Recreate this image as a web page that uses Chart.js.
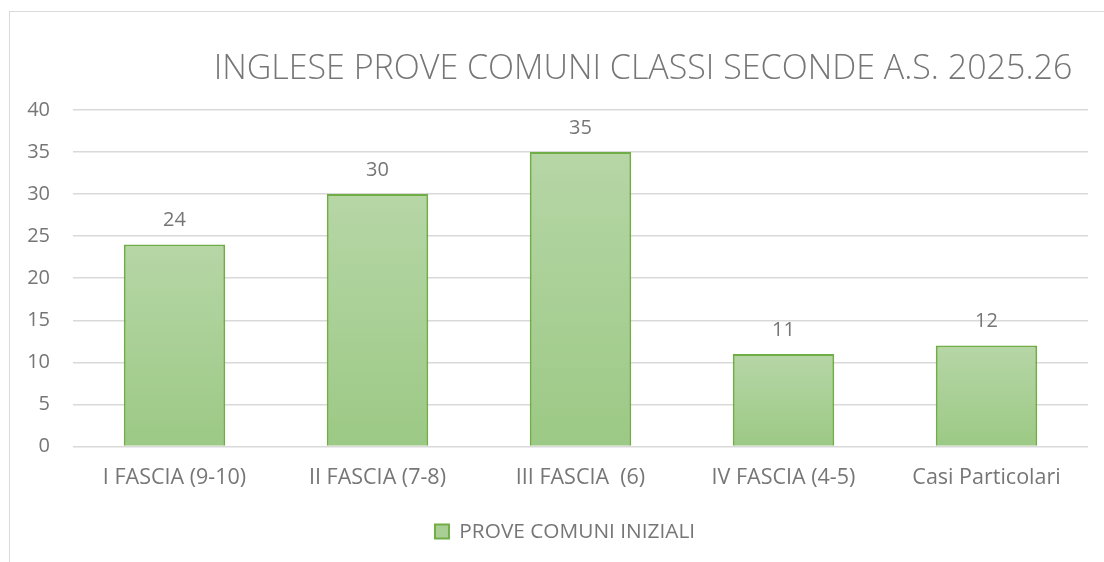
<!DOCTYPE html>
<html><head><meta charset="utf-8">
<script src="https://cdn.jsdelivr.net/npm/chart.js@4/dist/chart.umd.min.js"></script>
<style>
html,body{margin:0;padding:0;background:#fff;overflow:hidden;}
#wrap{position:absolute;left:9px;top:11px;width:1110px;height:570px;border:1px solid #d9d9d9;}
#c{position:absolute;left:0;top:0;}
</style></head>
<body>
<div id="wrap"><canvas id="c" width="1094" height="550"></canvas></div>
<script>
const categories = ["I FASCIA (9-10)", "II FASCIA (7-8)", "III FASCIA  (6)", "IV FASCIA (4-5)", "Casi Particolari"];
const values = [24, 30, 35, 11, 12];
const seriesName = "PROVE COMUNI INIZIALI";
const titleText = "INGLESE PROVE COMUNI CLASSI SECONDE A.S. 2025.26";
const yTicks = [0, 5, 10, 15, 20, 25, 30, 35, 40];

const FONT = "'Open Sans', sans-serif";
const GRAY = '#767676';

function barGradient(ctx) {
  const chart = ctx.chart;
  const ys = chart.scales && chart.scales.y;
  if (!chart.chartArea || !ys || ctx.dataIndex === undefined) return '#a9cf95';
  const v = values[ctx.dataIndex];
  const top = ys.getPixelForValue(v);
  const bot = ys.getPixelForValue(0);
  const g = chart.ctx.createLinearGradient(0, top, 0, bot);
  g.addColorStop(0, '#b6d6a6');
  g.addColorStop(1, '#9cc985');
  return g;
}

const titlePlugin = {
  id: 'customTitle',
  afterDraw(chart) {
    const c = chart.ctx;
    c.save();
    c.font = "300 34px " + FONT;
    c.fillStyle = GRAY;
    c.textAlign = 'center';
    c.textBaseline = 'middle';
    c.fillText(titleText, 633, 57);
    c.restore();
  }
};

const legendShift = {
  id: 'legendShift',
  afterLayout(chart) {
    if (chart.legend) { chart.legend.left += 16; chart.legend.right += 16; }
  }
};

const labelPlugin = {
  id: 'valueLabels',
  afterDatasetsDraw(chart) {
    const c = chart.ctx;
    const meta = chart.getDatasetMeta(0);
    c.save();
    c.font = "20px " + FONT;
    c.fillStyle = GRAY;
    c.textAlign = 'center';
    c.textBaseline = 'middle';
    meta.data.forEach((bar, i) => {
      c.fillText(String(values[i]), bar.x, bar.y - 24);
    });
    c.restore();
  }
};

new Chart(document.getElementById('c'), {
  type: 'bar',
  data: {
    labels: categories,
    datasets: [{
      label: seriesName,
      data: values,
      backgroundColor: barGradient,
      borderColor: '#70ad47',
      borderWidth: 2,
      borderSkipped: 'bottom',
      categoryPercentage: 1.0,
      barPercentage: 0.5
    }]
  },
  options: {
    responsive: false,
    animation: false,
    devicePixelRatio: 1,
    layout: { padding: { left: 0, right: 16, top: 98, bottom: 10 } },
    plugins: {
      title: { display: false },
      tooltip: { enabled: false },
      legend: {
        position: 'bottom',
        labels: {
          color: GRAY,
          font: { family: FONT, size: 20.8 },
          boxWidth: 14,
          boxHeight: 14,
          padding: 14,
          generateLabels(chart) {
            return [{
              text: seriesName,
              fillStyle: '#a9cf95',
              strokeStyle: '#70ad47',
              lineWidth: 2,
              fontColor: GRAY,
              datasetIndex: 0
            }];
          }
        }
      }
    },
    scales: {
      x: {
        grid: { display: false, drawTicks: false },
        border: { display: false },
        afterFit(scale) { scale.height -= 3; },
        ticks: { color: GRAY, font: { family: FONT, size: 21.5 }, padding: 19, maxRotation: 0 }
      },
      y: {
        min: 0, max: 40,
        afterFit(scale) { scale.width = 63; },
        afterBuildTicks(scale) { scale.ticks = yTicks.map(v => ({ value: v })); },
        grid: { color: '#d9d9d9', lineWidth: 1.5, drawTicks: false },
        border: { display: false },
        ticks: { color: GRAY, font: { family: FONT, size: 20 }, padding: 23 }
      }
    }
  },
  plugins: [titlePlugin, labelPlugin, legendShift]
});
</script>
</body></html>
